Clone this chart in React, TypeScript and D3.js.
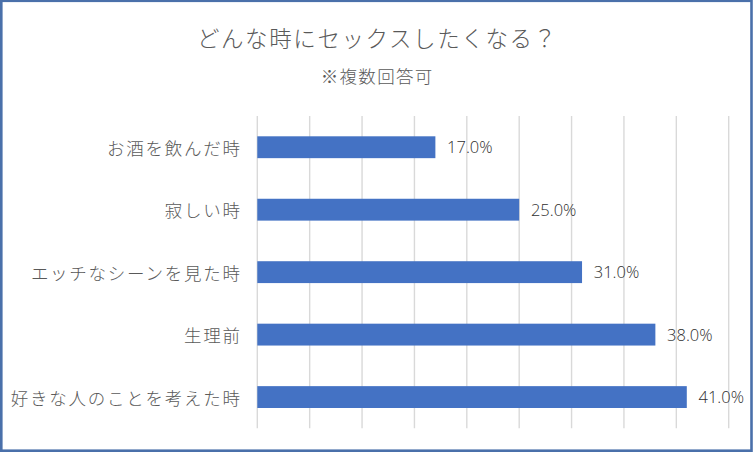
import React from "react";
import * as d3 from "d3";

const categories: string[] = [
  "お酒を飲んだ時",
  "寂しい時",
  "エッチなシーンを見た時",
  "生理前",
  "好きな人のことを考えた時",
];
const values: number[] = [0.17, 0.25, 0.31, 0.38, 0.41];
const title = "どんな時にセックスしたくなる？";
const subtitle = "※複数回答可";

const W = 753;
const H = 452;
const JP = "'Noto Sans CJK JP', 'Noto Sans', sans-serif";

export default function App() {
  const x = d3.scaleLinear().domain([0, 0.45]).range([257.3, 728.7]);
  const y = d3
    .scaleBand<string>()
    .domain(categories)
    .range([116, 428.3])
    .paddingInner(0.65)
    .paddingOuter(0.325);
  const ticks = d3.range(0, 10).map((i) => i * 0.05);
  const fmt = d3.format(".1%");
  const catLS = 1.75;
  const subLS = 1.3;
  const titleLS = 1.6;

  return (
    <div style={{ position: "absolute", left: 0, top: 0 }}>
      <svg width={W} height={H} style={{ display: "block", background: "#fff" }}>
        <rect x={0} y={0} width={W} height={H} fill="#ffffff" />
        <text
          x={376.5 + titleLS / 2}
          y={37}
          textAnchor="middle"
          dominantBaseline="central"
          fontFamily={JP}
          fontWeight={300}
          fontSize={22.5}
          letterSpacing={titleLS}
          fill="#595959"
        >
          {title}
        </text>
        <text
          x={376.5 + subLS / 2}
          y={75}
          textAnchor="middle"
          dominantBaseline="central"
          fontFamily={JP}
          fontWeight={300}
          fontSize={17.5}
          letterSpacing={subLS}
          fill="#595959"
        >
          {subtitle}
        </text>
        {ticks.map((t) => (
          <line
            key={t}
            x1={x(t)}
            x2={x(t)}
            y1={116}
            y2={428.3}
            stroke="#d9d9d9"
            strokeWidth={1.4}
          />
        ))}
        {categories.map((c, i) => (
          <g key={c}>
            <rect
              x={x(0)}
              y={y(c)!}
              width={x(values[i]) - x(0)}
              height={y.bandwidth()}
              fill="#4472c4"
            />
            <text
              x={240 + catLS}
              y={y(c)! + y.bandwidth() / 2}
              textAnchor="end"
              dominantBaseline="central"
              fontFamily={JP}
              fontWeight={300}
              fontSize={17.5}
              letterSpacing={catLS}
              fill="#595959"
            >
              {c}
            </text>
            <text
              x={x(values[i]) + 11.7}
              y={y(c)! + y.bandwidth() / 2 + 6.2}
              fontFamily="'Open Sans', sans-serif"
              fontWeight={300}
              fontSize={16.5}
              fill="#303030"
            >
              {fmt(values[i])}
            </text>
          </g>
        ))}
        <rect
          x={1.3}
          y={0.8}
          width={750.2}
          height={449.9}
          fill="none"
          stroke="#4a70aa"
          strokeWidth={2.6}
        />
      </svg>
    </div>
  );
}
